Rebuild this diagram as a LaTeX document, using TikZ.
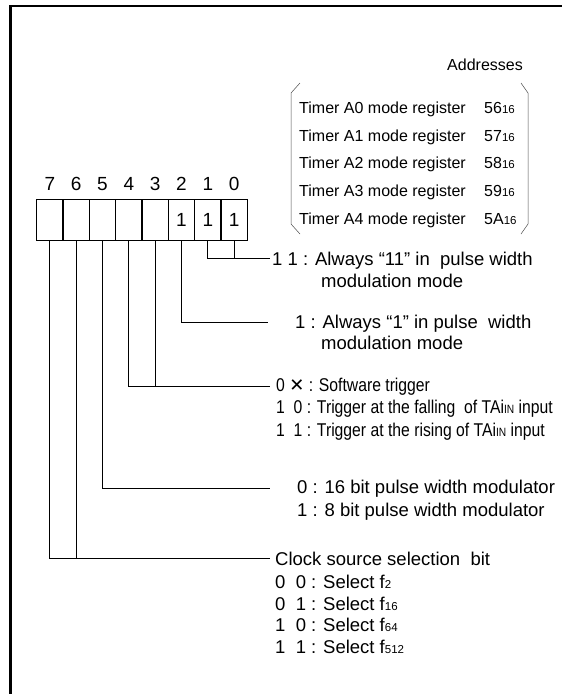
\documentclass[tikz,border=0pt]{standalone}
\usepackage{fontspec}
\setmainfont{Liberation Sans}
\newfontfamily\narrowfont[FakeStretch=0.85]{Liberation Sans}
\newfontfamily\symfont{DejaVu Sans}
\usetikzlibrary{positioning}
\newcommand\sbs[1]{\raisebox{-0.5pt}{\fontsize{11.5}{11.5}\selectfont #1}}
\tikzset{
  cell/.style={draw, line width=1.2pt, minimum width=26.33pt, minimum height=41pt,
    inner sep=0pt, font=\fontsize{19}{19}\selectfont},
  bitno/.style={inner sep=0pt, font=\fontsize{19}{19}\selectfont},
  lead/.style={line width=0.9pt},
  txt/.style={anchor=base west, inner sep=0pt, font=\fontsize{18.5}{18.5}\selectfont},
  ntxt/.style={anchor=base west, inner sep=0pt, font=\narrowfont\fontsize{18.5}{18.5}\selectfont},
  addr/.style={anchor=base west, inner sep=0pt, font=\fontsize{16}{16}\selectfont},
  brace/.style={line width=0.5pt, black!70}
}
\begin{document}
\begin{tikzpicture}[x=1pt,y=-1pt]
  \useasboundingbox (0,0) rectangle (562,694);
  \draw[line width=2.5pt] (10.5,694) -- (10.5,6) -- (562,6);

  % register bits
  \node[cell] (c7) at (49.9,220) {};
  \node[cell] (c6) at (76.2,220) {};
  \node[cell] (c5) at (102.5,220) {};
  \node[cell] (c4) at (128.8,220) {};
  \node[cell] (c3) at (155.2,220) {};
  \node[cell] (c2) at (181.5,220) {\raisebox{-2pt}{1}};
  \node[cell] (c1) at (207.8,220) {\raisebox{-2pt}{1}};
  \node[cell] (c0) at (234.2,220) {\raisebox{-2pt}{1}};
  \node[bitno, above=8pt of c7] (n7) {7};
  \node[bitno, above=8pt of c6] (n6) {6};
  \node[bitno, above=8pt of c5] (n5) {5};
  \node[bitno, above=8pt of c4] (n4) {4};
  \node[bitno, above=8pt of c3] (n3) {3};
  \node[bitno, above=8pt of c2] (n2) {2};
  \node[bitno, above=8pt of c1] (n1) {1};
  \node[bitno, above=8pt of c0] (n0) {0};

  % addresses
  \node[addr, anchor=base east] (adr) at (523,70.5) {Addresses};
  \node[addr] (r0) at (299,113) {Timer A0 mode register};
  \node[addr] (r1) at (299,141) {Timer A1 mode register};
  \node[addr] (r2) at (299,168) {Timer A2 mode register};
  \node[addr] (r3) at (299,196) {Timer A3 mode register};
  \node[addr] (r4) at (299,224) {Timer A4 mode register};
  \node[addr] (a0) at (484,113) {56\sbs{16}};
  \node[addr] (a1) at (484,141) {57\sbs{16}};
  \node[addr] (a2) at (484,168) {58\sbs{16}};
  \node[addr] (a3) at (484,196) {59\sbs{16}};
  \node[addr] (a4) at (484,224) {5A\sbs{16}};
  \draw[brace] (300,83) -- (291,93) -- (291,224) -- (300,234);
  \draw[brace] (521,83) -- (528,93) -- (528,224) -- (521,234);

  % descriptions
  \node[txt] (t10) at (272,265.5) {1 1 : Always “11” in\ \ pulse width};
  \node[txt] (t10b) at (321,287.5) {modulation mode};
  \node[txt] (t2) at (295,328.5) {1 : Always “1” in pulse\ \ width};
  \node[txt] (t2b) at (321,349.5) {modulation mode};
  \node[ntxt] (t43) at (276,391) {0 {\symfont\fontsize{18}{18}\selectfont ✕} : Software trigger};
  \node[ntxt] (t43b) at (276,413.5) {1\ \ 0 : Trigger at the falling\ \ of TAi{\fontsize{12}{12}\selectfont IN} input};
  \node[ntxt] (t43c) at (276,436) {1\ \ 1 : Trigger at the rising of TAi{\fontsize{12}{12}\selectfont IN} input};
  \node[txt] (t5) at (297,493.5) {0 : 16 bit pulse width modulator};
  \node[txt] (t5b) at (297,516.5) {1 : 8 bit pulse width modulator};
  \node[txt] (t76) at (275,565) {Clock source selection\ \ bit};
  \node[txt] (t76a) at (275,588) {0\ \ 0 : Select f\sbs{2}};
  \node[txt] (t76b) at (275,610) {0\ \ 1 : Select f\sbs{16}};
  \node[txt] (t76c) at (275,631) {1\ \ 0 : Select f\sbs{64}};
  \node[txt] (t76d) at (275,653) {1\ \ 1 : Select f\sbs{512}};

  % leads
  \coordinate (e10) at (270,258);
  \coordinate (e2) at (268,322);
  \coordinate (e43) at (270,386.5);
  \coordinate (e5) at (270,488);
  \coordinate (e76) at (270,558.5);
  \begin{scope}[lead]
    \draw (c1.south) |- (e10);
    \draw (c0.south) -- (c0.south |- e10);
    \draw (c2.south) |- (e2);
    \draw (c4.south) |- (e43);
    \draw (c3.south) -- (c3.south |- e43);
    \draw (c5.south) |- (e5);
    \draw (c7.south) |- (e76);
    \draw (c6.south) -- (c6.south |- e76);
  \end{scope}
\end{tikzpicture}
\end{document}
